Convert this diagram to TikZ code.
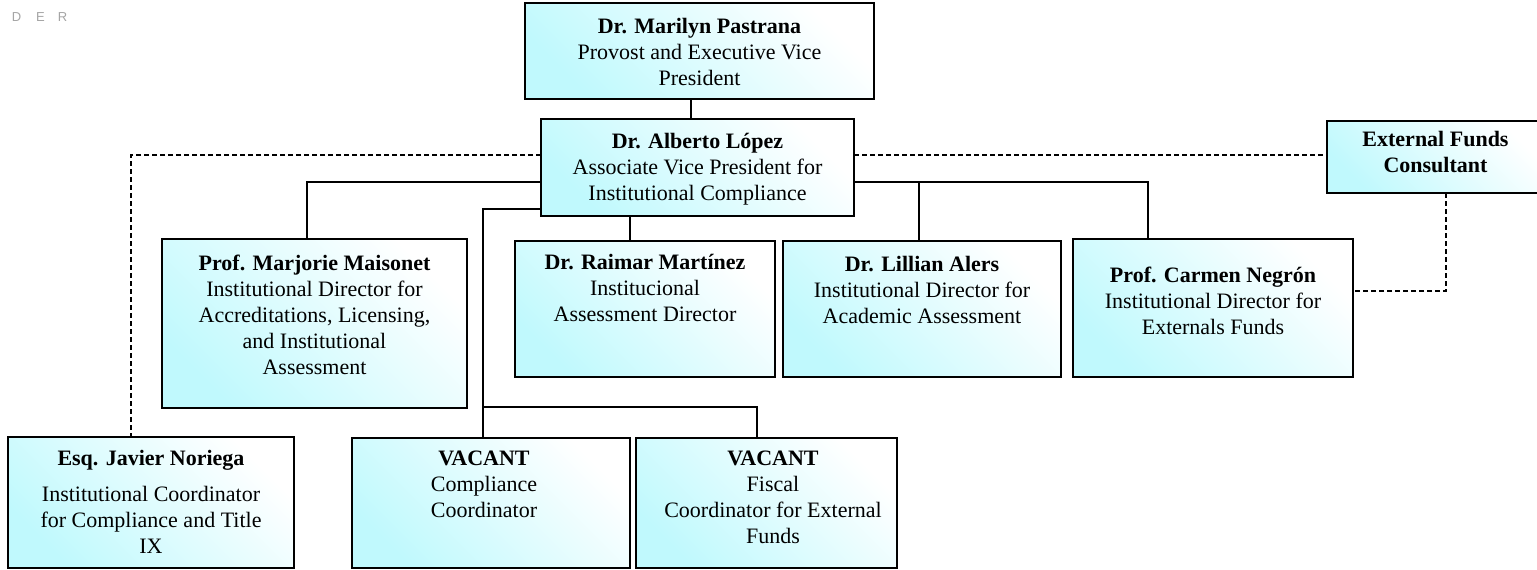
\documentclass[tikz,border=0pt]{standalone}
\usepackage{fontspec}
\setmainfont{Liberation Serif}
\newfontfamily\logofont{Liberation Sans}
\usetikzlibrary{calc}
\definecolor{boxcyan}{RGB}{192,249,253}
\definecolor{logogray}{RGB}{165,165,165}
\tikzset{
  orgbox/.style={draw=black, line width=1.6pt, top color=white, bottom color=boxcyan,
    shading angle=-45, rectangle, inner sep=0pt, outer sep=0pt, anchor=north west},
  orgtext/.style={align=center, inner sep=0pt, anchor=north, font=\fontsize{22}{26}\selectfont},
  logoletter/.style={inner sep=0pt, anchor=base, text=logogray, font=\logofont\fontsize{13}{15}\selectfont},
  solidlink/.style={line width=1.3pt},
  dashlink/.style={line width=1.3pt, dash pattern=on 5pt off 3pt},
}
\newcommand\orgnode[5]{%
  \node[orgbox, minimum width={#4pt-#2pt}, minimum height={#5pt-#3pt}] (#1) at (#2,#3) {};}
\begin{document}
\begin{tikzpicture}[x=1pt,y=-1pt]
\useasboundingbox (0,0) rectangle (1537,570);
\clip (0,0) rectangle (1537,570);
\fill[white] (0,0) rectangle (1537,570);

% partial logo text
\node[logoletter] (ld) at (16.5,21) {D};
\node[logoletter] (le) at (40.5,21) {E};
\node[logoletter] (lr) at (62.5,21) {R};

% boxes
\orgnode{pastrana}{525}{3}{874}{99}
\orgnode{lopez}{541}{119}{854}{216}
\orgnode{consult}{1327}{121}{1544}{193}
\orgnode{maisonet}{162}{239}{467}{408}
\orgnode{martinez}{515}{241}{775}{377}
\orgnode{alers}{783}{241}{1061}{377}
\orgnode{negron}{1073}{239}{1353}{377}
\orgnode{javier}{8}{437}{294}{568}
\orgnode{vacanta}{352}{438}{630}{568}
\orgnode{vacantb}{636}{438}{897}{568}

% texts
\node[orgtext] (tpastrana) at (699.5,18) {\textbf{Dr. Marilyn Pastrana}\\Provost and Executive Vice\\President};
\node[orgtext] (tlopez) at (697.5,133) {\textbf{Dr. Alberto López}\\Associate Vice President for\\Institutional Compliance};
\node[orgtext] (tconsult) at (1435.5,131) {\textbf{External Funds}\\\textbf{Consultant}};
\node[orgtext] (tmaisonet) at (314.5,255) {\textbf{Prof. Marjorie Maisonet}\\Institutional Director for\\Accreditations, Licensing,\\and Institutional\\Assessment};
\node[orgtext] (tmartinez) at (645,254) {\textbf{Dr. Raimar Martínez}\\Institucional\\Assessment Director};
\node[orgtext] (talers) at (922,256) {\textbf{Dr. Lillian Alers}\\Institutional Director for\\Academic Assessment};
\node[orgtext] (tnegron) at (1213,267) {\textbf{Prof. Carmen Negrón}\\Institutional Director for\\Externals Funds};
\node[orgtext] (tjavier) at (151,450) {\textbf{Esq. Javier Noriega}\\[10pt]Institutional Coordinator\\for Compliance and Title\\IX};
\node[orgtext] (tvacanta) at (484,451) {\textbf{VACANT}\\Compliance\\Coordinator};
\node[orgtext] (tvacantb) at (773,451) {\textbf{VACANT}\\Fiscal\\Coordinator for External\\Funds};

% connectors
\coordinate (split) at (483,407);
\coordinate (rjoint) at (919,182);
\draw[solidlink] ([xshift=-8.5pt]pastrana.south) -- ([xshift=-8.5pt]pastrana.south |- lopez.north);
\draw[solidlink] (lopez.west |- 0,182) -| (maisonet.north -| 307,0);
\draw[solidlink] (lopez.west |- 0,209) -| (vacanta.north -| split);
\draw[solidlink] (split) -| (vacantb.north -| 757,0);
\draw[solidlink] (lopez.south -| 630,0) -- (martinez.north -| 630,0);
\draw[solidlink] (lopez.east |- 0,182) -| (negron.north -| 1148,0);
\draw[solidlink] (rjoint) -- (alers.north -| rjoint);
\draw[dashlink] (lopez.west |- 0,155) -| (javier.north -| 131,0);
\draw[dashlink] (lopez.east |- 0,155) -- (consult.west |- 0,155);
\draw[dashlink] (consult.south -| 1446,0) |- (negron.east |- 0,291);
\end{tikzpicture}
\end{document}
